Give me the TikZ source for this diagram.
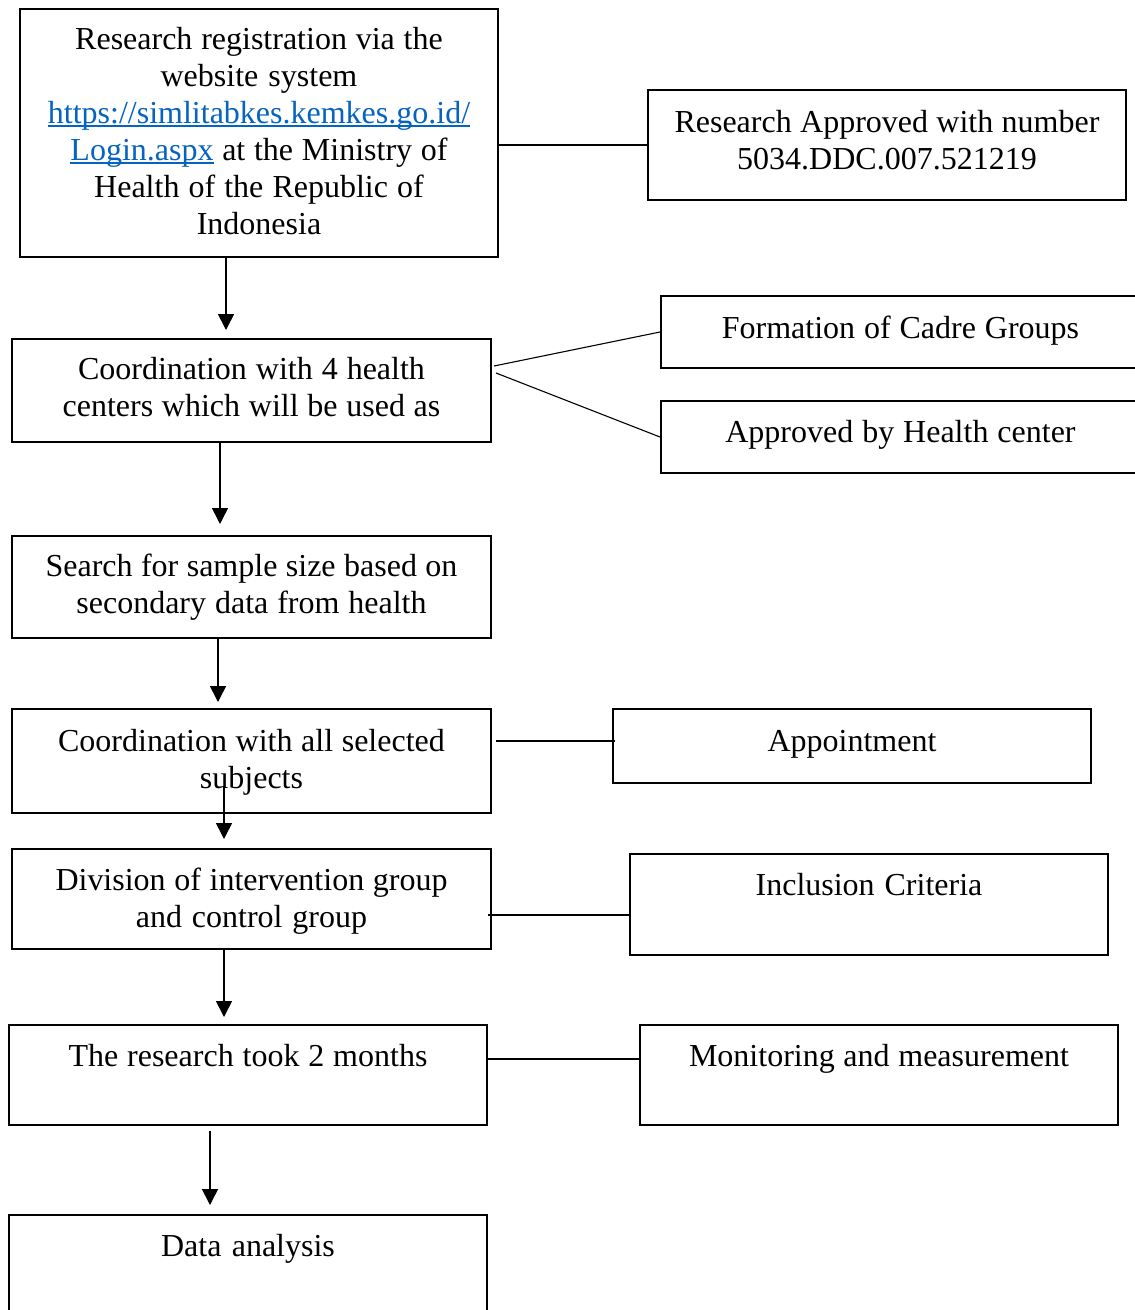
\documentclass[tikz,border=0pt]{standalone}
\usepackage{fontspec}
\setmainfont{Liberation Serif}
\usetikzlibrary{arrows.meta}
\definecolor{linkblue}{HTML}{0563C1}
\newsavebox\ulbox
\newcommand\myul[1]{\leavevmode\sbox\ulbox{#1}\rlap{\rule[-3.5pt]{\wd\ulbox}{1.4pt}}\usebox\ulbox}
\newcommand\boxfont{\fontsize{32}{37}\selectfont}
\tikzset{
  box/.style={draw=black, line width=2pt, rectangle, inner sep=0pt},
  txt/.style={anchor=base, align=center, text width=470pt, inner sep=0pt,
    font=\boxfont, execute at begin node={\spaceskip=8pt plus 1pt minus 1pt\relax}},
  con/.style={draw=black, line width=1.6pt},
  thin/.style={draw=black, line width=1.1pt},
  arr/.style={draw=black, line width=1.6pt, -{Triangle[width=16pt,length=16pt]}}
}
\begin{document}
\begin{tikzpicture}[x=1pt,y=-1pt]
\useasboundingbox (0,0) rectangle (1135,1310);
\fill[white] (0,0) rectangle (1135,1310);
\clip (0,0) rectangle (1135,1310);
% boxes
\node[box, minimum width=478pt, minimum height=248pt] (b1) at (259,133) {};
\node[box, minimum width=478pt, minimum height=110pt] (r1) at (887,145) {};
\node[box, minimum width=479pt, minimum height=103pt] (b2) at (251.5,390.5) {};
\node[box, minimum width=479pt, minimum height=72pt] (r2a) at (900.5,332) {};
\node[box, minimum width=479pt, minimum height=72pt] (r2b) at (900.5,437) {};
\node[box, minimum width=479pt, minimum height=102pt] (b3) at (251.5,587) {};
\node[box, minimum width=479pt, minimum height=104pt] (b4) at (251.5,761) {};
\node[box, minimum width=478pt, minimum height=74pt] (r4) at (852,746) {};
\node[box, minimum width=479pt, minimum height=100pt] (b5) at (251.5,899) {};
\node[box, minimum width=478pt, minimum height=101pt] (r5) at (869,904.5) {};
\node[box, minimum width=478pt, minimum height=100pt] (b6) at (248,1075) {};
\node[box, minimum width=478pt, minimum height=100pt] (r6) at (879,1075) {};
\node[box, minimum width=478pt, minimum height=105pt] (b7) at (248,1267.5) {};
% texts
\node[txt] (t1) at ([yshift=-41pt]b1.north) {Research registration via the\\website system\\{\color{linkblue}\myul{https://simlitabkes.kemkes.go.id/}}\\{\color{linkblue}\myul{Login.aspx}} at the Ministry of\\Health of the Republic of\\Indonesia};
\node[txt] (tr1) at ([yshift=-43pt]r1.north) {Research Approved with number\\5034.DDC.007.521219};
\node[txt] (t2) at ([yshift=-41pt]b2.north) {Coordination with 4 health\\centers which will be used as};
\node[txt] (tr2a) at ([yshift=-43pt]r2a.north) {Formation of Cadre Groups};
\node[txt] (tr2b) at ([yshift=-42pt]r2b.north) {Approved by Health center};
\node[txt] (t3) at ([yshift=-41pt]b3.north) {Search for sample size based on\\secondary data from health};
\node[txt] (t4) at ([yshift=-43pt]b4.north) {Coordination with all selected\\subjects};
\node[txt] (tr4) at ([yshift=-43pt]r4.north) {Appointment};
\node[txt] (t5) at ([yshift=-42pt]b5.north) {Division of intervention group\\and control group};
\node[txt] (tr5) at ([yshift=-42pt]r5.north) {Inclusion Criteria};
\node[txt] (t6) at ([yshift=-42pt]b6.north) {The research took 2 months};
\node[txt] (tr6) at ([yshift=-42pt]r6.north) {Monitoring and measurement};
\node[txt] (t7) at ([yshift=-42pt]b7.north) {Data analysis};
% side connectors
\draw[con] (b1.east |- r1.west) -- (r1.west);
\draw[thin] ([xshift=2pt,yshift=24.5pt]b2.east) -- (r2a.west);
\draw[thin] ([xshift=4pt,yshift=17.5pt]b2.east) -- (r2b.west);
\draw[con] ([xshift=4pt,yshift=20pt]b4.east) -- ([xshift=3pt,yshift=5pt]r4.west);
\draw[con] ([xshift=-4pt,yshift=-16pt]b5.east) -- ([yshift=-10.5pt]r5.west);
\draw[con] ([yshift=16pt]b6.east) -- ([yshift=16pt]r6.west);
% arrows
\draw[arr] ([xshift=-33pt]b1.south) -- ([xshift=-25.5pt,yshift=8pt]b2.north);
\draw[arr] ([xshift=-31.5pt]b2.south) -- ([xshift=-31.5pt,yshift=11pt]b3.north);
\draw[arr] ([xshift=-33.5pt]b3.south) -- ([xshift=-33.5pt,yshift=6pt]b4.north);
\draw[arr] ([xshift=-27.5pt,yshift=28pt]b4.south) -- ([xshift=-27.5pt,yshift=9pt]b5.north);
\draw[arr] ([xshift=-27.5pt]b5.south) -- ([xshift=-24pt,yshift=7pt]b6.north);
\draw[arr] ([xshift=-38pt,yshift=-5pt]b6.south) -- ([xshift=-38pt,yshift=9pt]b7.north);
\end{tikzpicture}
\end{document}
